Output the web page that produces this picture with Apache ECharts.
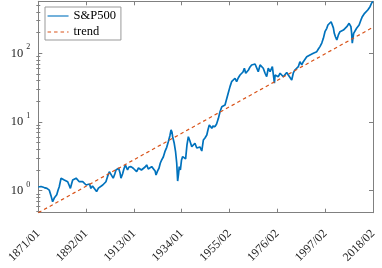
<!DOCTYPE html>
<html>
<head>
<meta charset="utf-8">
<script src="https://cdn.jsdelivr.net/npm/echarts@6/dist/echarts.min.js"></script>
<style>
html,body{margin:0;padding:0;background:#fff;}
#chart{width:382px;height:268px;}
</style>
</head>
<body>
<div id="chart"></div>
<script>
// ---- data ----
const years = [1871.0,1872.2,1873.6,1874.8,1875.8,1876.6,1877.3,1878.0,1879.1,1879.7,1880.2,1881.0,1881.6,1882.4,1883.2,1883.9,1884.5,1885.1,1885.6,1886.1,1886.9,1887.6,1888.2,1889.0,1889.8,1890.5,1891.3,1892.0,1892.7,1893.5,1894.1,1894.8,1895.6,1896.6,1897.4,1898.1,1899.3,1900.1,1900.7,1901.5,1902.2,1902.9,1903.9,1904.6,1905.1,1906.3,1906.9,1907.3,1908.0,1908.6,1909.2,1910.2,1910.8,1911.7,1912.7,1913.3,1914.2,1915.0,1915.7,1916.3,1917.1,1917.9,1918.6,1919.3,1920.1,1920.8,1921.5,1922.3,1922.7,1923.4,1924.0,1924.6,1925.2,1925.9,1926.6,1927.4,1928.1,1928.8,1929.3,1929.7,1930.0,1930.7,1931.3,1931.8,1932.2,1932.6,1932.9,1933.4,1933.9,1934.4,1935.0,1935.7,1936.3,1936.9,1937.6,1938.4,1939.2,1939.8,1940.6,1941.3,1942.0,1942.8,1943.5,1944.2,1945.0,1945.5,1946.1,1946.6,1947.2,1947.7,1948.6,1949.3,1949.6,1950.1,1950.8,1951.6,1952.3,1953.0,1953.7,1954.4,1955.2,1955.9,1956.6,1957.4,1958.1,1958.8,1959.6,1960.3,1960.9,1961.5,1962.1,1962.8,1963.3,1964.0,1964.7,1965.5,1966.2,1966.9,1967.6,1968.4,1969.1,1969.8,1970.6,1971.3,1972.0,1972.8,1973.8,1974.7,1975.0,1975.7,1976.4,1977.2,1977.9,1978.6,1979.4,1980.1,1980.8,1981.5,1982.3,1983.0,1983.7,1984.5,1985.2,1985.9,1986.7,1987.4,1988.1,1988.9,1989.6,1990.3,1991.1,1991.8,1992.5,1993.3,1994.0,1994.7,1995.5,1996.2,1996.9,1997.7,1998.2,1998.7,1999.6,2000.1,2000.6,2001.0,2001.5,2002.1,2002.8,2003.5,2004.3,2005.0,2005.7,2006.5,2007.0,2007.5,2007.9,2008.3,2008.6,2008.9,2009.5,2010.1,2010.8,2011.4,2011.9,2012.3,2012.7,2013.3,2013.7,2014.3,2014.8,2015.7,2016.2,2016.7,2017.4,2018.0];
const spx = [1.13,1.15,1.11,1.08,1.02,0.84,0.69,0.78,0.87,1.02,1.14,1.52,1.43,1.43,1.34,1.35,1.21,1.08,1.25,1.43,1.38,1.52,1.43,1.35,1.41,1.35,1.29,1.21,1.28,1.25,1.08,1.17,1.14,0.97,1.09,1.02,1.21,1.29,1.35,1.64,1.89,1.79,1.52,1.75,2.00,2.12,1.81,1.52,1.75,2.07,2.37,2.00,2.21,2.24,2.12,2.21,1.89,2.14,2.24,2.00,1.89,2.21,2.37,2.07,2.00,2.24,2.19,1.94,1.69,1.94,2.12,2.53,2.80,3.09,3.70,4.28,5.17,6.32,7.65,7.15,6.11,4.90,3.66,2.51,1.38,1.75,2.24,2.00,2.80,3.13,3.31,2.90,4.63,6.11,5.29,4.37,4.63,4.90,4.18,3.91,4.33,3.78,5.47,5.85,6.47,7.65,9.04,8.46,8.10,8.74,8.54,9.35,9.57,11.3,14.1,16.7,16.0,17.7,18.7,26.2,32.7,38.6,36.6,43.3,38.6,43.7,48.3,45.6,53.4,60.5,51.2,54.0,57.1,63.2,67.6,63.8,69.9,67.6,54.0,67.6,69.9,60.5,51.2,45.6,60.5,54.0,63.8,36.6,48.3,48.3,45.6,51.2,48.3,45.6,48.3,52.5,48.3,46.7,40.9,51.7,57.1,54.0,63.8,75.5,67.6,75.5,72.2,89.2,88.3,94.5,92.9,100,101,105.5,115.5,125,141,165,206,231,258,273,288,273,234,195,174,156,185,206,206,218,231,244,258,273,258,244,200,140,195,206,231,244,258,273,305,341,361,382,403,427,452,477,540,568];
const trendYears = [1871, 2018];
const trendValues = [0.478, 239];
const xTickLabels = ['1871/01','1892/01','1913/01','1934/01','1955/02','1976/02','1997/02','2018/02'];
const yMinorTicks = [0.5,0.6,0.7,0.8,0.9,2,3,4,5,6,7,8,9,20,30,40,50,60,70,80,90,200,300,400,500];
const yMin = 0.478, yMax = 571;
const startYear = 1871, xSpan = 147, xStep = 21;

const FONT = "'Liberation Serif', 'Times New Roman', serif";
const AX = '#808080';
const TXT = '#262626';

const spxData = years.map((y, i) => [y - startYear, spx[i]]);
const trendData = trendYears.map((y, i) => [y - startYear, trendValues[i]]);

function xAxisBase(pos, showLabel) {
  return {
    type: 'value', position: pos, min: 0, max: xSpan, interval: xStep,
    axisLine: {show: true, onZero: false, lineStyle: {color: AX, width: 1}},
    axisTick: {show: true, inside: true, length: 4, lineStyle: {color: AX}},
    splitLine: {show: false},
    axisLabel: showLabel ? {
      show: true, rotate: 45, margin: 19, fontFamily: FONT, fontSize: 12, color: TXT,
      showMinLabel: true, showMaxLabel: true,
      formatter: v => xTickLabels[Math.round(v / xStep)] || ''
    } : {show: false}
  };
}
function pow10Label(v) {
  const e = Math.round(Math.log10(v));
  if (Math.abs(v - Math.pow(10, e)) < 1e-6 * v) return '{b|10}{s|' + e + '}';
  return '';
}
function yAxisMajor(pos, showLabel) {
  return {
    type: 'log', logBase: 10, position: pos, min: yMin, max: yMax,
    axisLine: {show: true, onZero: false, lineStyle: {color: AX, width: 1}},
    axisTick: {show: true, inside: true, length: 4, lineStyle: {color: AX}},
    splitLine: {show: false},
    axisLabel: showLabel ? {
      show: true, margin: 8, fontFamily: FONT, color: TXT,
      showMinLabel: false, showMaxLabel: false,
      formatter: pow10Label,
      rich: {
        b: {fontSize: 12.5, fontFamily: FONT, color: TXT, lineHeight: 20},
        s: {fontSize: 8, fontFamily: FONT, color: TXT, lineHeight: 9, verticalAlign: 'top', padding: [0, 0, 0, 3]}
      }
    } : {show: false}
  };
}
function yAxisMinor(pos) {
  return {
    type: 'log', logBase: 10, position: pos, min: yMin, max: yMax,
    axisLine: {show: false},
    axisTick: {show: true, inside: true, length: 2, customValues: yMinorTicks, lineStyle: {color: AX}},
    splitLine: {show: false},
    axisLabel: {show: false}
  };
}

const chart = echarts.init(document.getElementById('chart'), null, {renderer: 'canvas'});
chart.setOption({
  animation: false,
  backgroundColor: '#fff',
  grid: {left: 38.3, right: 9, top: 1.3, bottom: 55.3, containLabel: false, outerBoundsMode: 'none'},
  legend: {
    left: 45, top: 7, orient: 'vertical',
    itemWidth: 21, itemHeight: 12, itemGap: 2,
    padding: [2, 5, 1, 2],
    borderColor: '#999', borderWidth: 1, backgroundColor: '#fff',
    itemStyle: {opacity: 0},
    lineStyle: {width: 1.1},
    textStyle: {fontFamily: FONT, fontSize: 12.5, color: '#000', lineHeight: 14},
    data: ['S&P500', 'trend']
  },
  xAxis: [xAxisBase('bottom', true), xAxisBase('top', false)],
  yAxis: [yAxisMajor('left', true), yAxisMajor('right', false), yAxisMinor('left'), yAxisMinor('right')],
  series: [
    {
      name: 'S&P500', type: 'line', xAxisIndex: 0, yAxisIndex: 0,
      data: spxData, symbol: 'none', showSymbol: false,
      lineStyle: {color: '#0072BD', width: 1.7}, itemStyle: {color: '#0072BD'}
    },
    {
      name: 'trend', type: 'line', xAxisIndex: 0, yAxisIndex: 0,
      data: trendData, symbol: 'none', showSymbol: false,
      lineStyle: {color: '#D95319', width: 1.2, type: [3.5, 3]}, itemStyle: {color: '#D95319'}
    }
  ]
});
</script>
</body>
</html>
